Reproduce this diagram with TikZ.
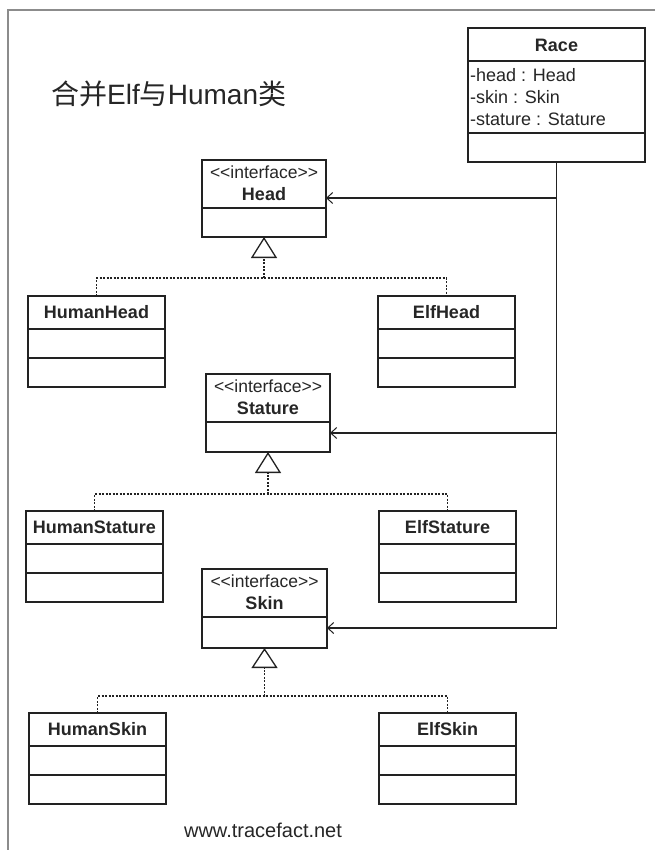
\documentclass[tikz,border=0pt]{standalone}
\usepackage{fontspec}
\setmainfont{Liberation Sans}
\newfontfamily\cjkfont{Noto Sans CJK SC}
\usetikzlibrary{arrows.meta}

\definecolor{ink}{HTML}{222222}
\definecolor{txt}{HTML}{262626}
\definecolor{framegray}{HTML}{8C8C8C}

\tikzset{
  clsbox/.style={draw=ink, line width=1.2pt, rectangle, inner sep=0pt, outer sep=0pt, fill=white},
  clsline/.style={draw=ink, line width=1.2pt},
  clsname/.style={font=\fontsize{18}{21}\selectfont\bfseries, text=txt, inner sep=0pt},
  stereo/.style={font=\fontsize{17.5}{20}\selectfont, text=txt, inner sep=0pt},
  attr/.style={font=\fontsize{18}{21}\selectfont, text=txt, inner sep=0pt, anchor=west},
  assoc/.style={draw=ink, line width=1.2pt, -{Straight Barb[length=6pt, width=11pt, line width=1pt]}},
  realize/.style={draw=ink, line width=1.3pt, dash pattern=on 2pt off 1.5pt},
  gentip/.style={-{Triangle[open, length=#1, width=26pt, line width=1.3pt]}},
}

% class with name, attribute and operation compartments
\newcommand\plainclass[4]{% name, left, top, title
  \node[clsbox, anchor=north west, minimum width=137pt, minimum height=91pt] (#1) at (#2,#3) {};
  \draw[clsline] ([yshift=-33pt]#1.north west) -- ([yshift=-33pt]#1.north east);
  \draw[clsline] ([yshift=-62pt]#1.north west) -- ([yshift=-62pt]#1.north east);
  \node[clsname] (#1-name) at ([yshift=-16pt]#1.north) {#4};
}

% interface with stereotype header and one empty compartment
\newcommand\ifacebox[6]{% name, left, top, width, height, title
  \node[clsbox, anchor=north west, minimum width=#4pt, minimum height=#5pt] (#1) at (#2,#3) {};
  \draw[clsline] ([yshift=-48pt]#1.north west) -- ([yshift=-48pt]#1.north east);
  \node[stereo] (#1-stereo) at ([yshift=-12pt]#1.north) {<\kern0pt<interface>\kern0pt>};
  \node[clsname] (#1-name) at ([yshift=-34pt]#1.north) {#6};
}

\begin{document}
\begin{tikzpicture}[x=1pt, y=-1pt]
  \useasboundingbox (0,0) rectangle (655,850);

  % page frame
  \draw[framegray, line width=1.6pt] (655,10) -- (8,10) -- (8,850);

  % heading
  \node[anchor=west, inner sep=0pt, text=txt, font=\fontsize{28}{32}\selectfont] (heading) at (51,94)
    {{\cjkfont 合并}Elf{\cjkfont 与}Human{\cjkfont 类}};

  % Race class
  \node[clsbox, anchor=north west, minimum width=177pt, minimum height=134pt] (race) at (468,28) {};
  \draw[clsline] ([yshift=-33pt]race.north west) -- ([yshift=-33pt]race.north east);
  \draw[clsline] ([yshift=-105pt]race.north west) -- ([yshift=-105pt]race.north east);
  \node[clsname] (race-name) at ([yshift=-17pt]race.north) {Race};
  \node[attr] (race-a1) at ([xshift=2pt, yshift=-47pt]race.north west) {-head : Head};
  \node[attr] (race-a2) at ([xshift=2pt, yshift=-69pt]race.north west) {-skin : Skin};
  \node[attr] (race-a3) at ([xshift=2pt, yshift=-91pt]race.north west) {-stature : Stature};

  % interfaces
  \ifacebox{headI}{202}{160}{124}{77}{Head}
  \ifacebox{statI}{206}{374}{124}{78}{Stature}
  \ifacebox{skinI}{202}{569}{125}{79}{Skin}

  % implementations
  \plainclass{hh}{28}{296}{HumanHead}
  \plainclass{eh}{378}{296}{ElfHead}
  \plainclass{hs}{26}{511}{HumanStature}
  \plainclass{es}{379}{511}{ElfStature}
  \plainclass{hk}{29}{713}{HumanSkin}
  \plainclass{ek}{379}{713}{ElfSkin}

  % association targets on the interfaces
  \path (headI.north east) ++(0,38) coordinate (headT);
  \path (statI.north east) ++(0,59) coordinate (statT);
  \path (skinI.north east) ++(0,59) coordinate (skinT);

  \draw[assoc] (race.south) |- (headT);
  \draw[assoc] (race.south) |- (statT);
  \draw[assoc] (race.south) |- (skinT);

  % realization junctions
  \path (headI.south) ++(0,41) coordinate (headJ);
  \path (statI.south) ++(0,42) coordinate (statJ);
  \path (skinI.south) ++(0,48) coordinate (skinJ);

  \draw[realize] (hh.north) |- (headJ) -| (eh.north);
  \draw[realize, gentip=21pt] (headJ) -- (headI.south);
  \draw[realize] (hs.north) |- (statJ) -| (es.north);
  \draw[realize, gentip=21pt] (statJ) -- (statI.south);
  \draw[realize] (hk.north) |- (skinJ) -| (ek.north);
  \draw[realize, gentip=20pt] (skinJ) -- (skinI.south);

  % footer
  \node[inner sep=0pt, text=txt, font=\fontsize{20}{24}\selectfont] (footer) at (263,830) {www.tracefact.net};
\end{tikzpicture}
\end{document}
